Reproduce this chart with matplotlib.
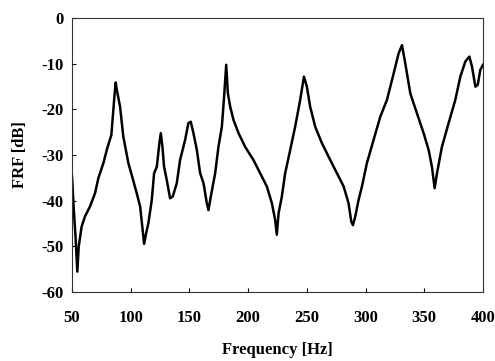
import numpy as np
import matplotlib.pyplot as plt

# traced FRF curve (frequency in Hz, magnitude in dB)
freq = [50, 51.5, 53, 54.5, 55.7, 58.2, 61, 65.3, 69.6, 72.4, 76.7, 80, 83.5, 85.2,
        86.3, 87.2, 88, 90.9, 93.7, 98, 101.5, 105.1, 108, 111.4, 113.1,
        115, 117.9, 119.9, 122.2, 124.4, 125.6, 127, 128.4, 130.7, 133.5, 135.8,
        139.2, 142, 146.3, 149.1, 151.1, 153.4, 156.3, 159.1, 162, 164.8, 166.2,
        168.2, 171.9, 174.7, 177.6, 179.5, 181.3, 182.7, 184.7, 187.5, 191.8,
        197.4, 204.5, 210.2, 215.9, 220.2, 223, 224.4, 225.9, 228.7, 231.5, 235.8,
        240, 244.3, 247.5, 250, 252.8, 257.1, 262.8, 269.9, 275.6, 281.3, 285.5,
        287.8, 289.2, 291.2, 294, 296.9, 301.1, 306.8, 312.5, 318.2, 323.9, 328.1,
        331, 333.8, 338.1, 343.8, 349.4, 353.7, 356.5, 358.8, 360.8, 365, 370.7,
        376.4, 380.7, 384.9, 388.4, 390.6, 393.5, 395.5, 397.7, 400]
frf_db = [-34.7, -42, -48, -55.6, -50.1, -45.7, -43.5, -41.3, -38.4, -35.1, -31.8,
          -28.5, -25.6, -20.1, -16.5, -14.1, -15.5, -19.4, -26, -31.8, -35,
          -38.4, -41.3, -49.5, -47.2, -45, -39.9, -34, -32.6, -27.4, -25.2,
          -28.2, -32.6, -35.5, -39.5, -39.1, -36.2, -31.1, -26.7, -23, -22.7,
          -25.2, -28.9, -34, -36.2, -40.6, -42.1, -39.1, -34, -28.2, -23.8, -17.2,
          -10.2, -16.4, -19.4, -22.3, -25.2, -28.2, -31.1, -34, -36.9, -40.6,
          -44.3, -47.5, -42.8, -39.1, -34, -28.9, -23.8, -17.9, -12.8, -15,
          -19.4, -23.8, -27.4, -31.1, -34, -36.9, -40.6, -44.6, -45.4, -43.5,
          -39.9, -36.9, -31.8, -26.7, -21.6, -17.9, -12.1, -7.7, -5.9, -9.9,
          -16.5, -20.9, -25.2, -28.9, -32.6, -37.3, -34, -28.2, -23, -17.9, -12.8,
          -9.5, -8.4, -10.6, -15, -14.6, -11.3, -10.2]

xticks = [50, 100, 150, 200, 250, 300, 350, 400]
yticks = [0, -10, -20, -30, -40, -50, -60]

plt.rcParams["font.family"] = "Liberation Serif"
plt.rcParams["font.weight"] = "bold"
plt.rcParams["axes.unicode_minus"] = False   # plain hyphen like the original

fig = plt.figure(figsize=(4.95, 3.61), dpi=100)
ax = fig.add_axes([0.1455, 0.192, 0.8303, 0.7573])

ax.plot(freq, frf_db, color='black', linewidth=1.8)

ax.set_xlim(50, 400)
ax.set_ylim(-60, 0)
ax.set_xticks(xticks)
ax.set_yticks(yticks)
ax.tick_params(direction='in', length=3, width=0.8, labelsize=12)
ax.tick_params(axis='x', pad=13)
ax.tick_params(axis='y', pad=6)
for lab in ax.get_xticklabels() + ax.get_yticklabels():
    lab.set_fontweight('bold')
for sp in ax.spines.values():
    sp.set_linewidth(0.8)
    sp.set_color('#333333')

ax.set_xlabel('Frequency [Hz]', fontsize=12, fontweight='bold', labelpad=12)
ax.set_ylabel('FRF [dB]', fontsize=12, fontweight='bold', labelpad=10)

fig.savefig('out.png', dpi=100)
